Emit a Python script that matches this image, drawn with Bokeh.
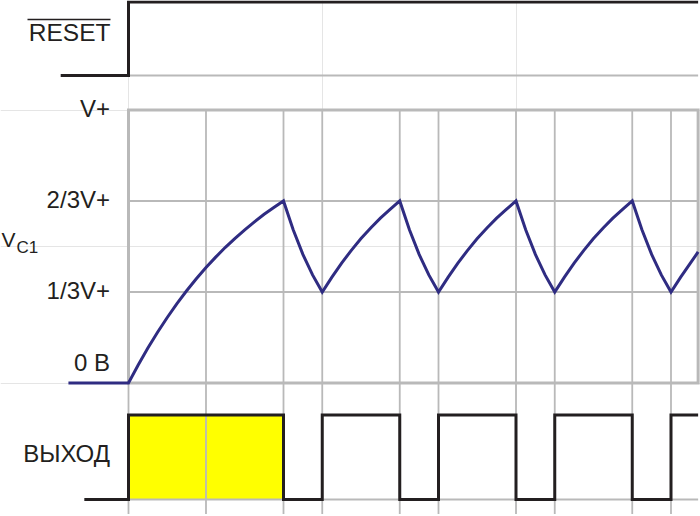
from bokeh.plotting import figure
from bokeh.models import Range1d, ColumnDataSource
from bokeh.core.properties import value
from bokeh.embed import file_html
from bokeh.resources import INLINE

# ---------------- data ----------------
# RESET input: low, then high from t = 0
reset_t = [-1.75, 0.0, 0.0, 14.7]
reset_level = [0, 0, 1, 1]

# output (ВЫХОД) transitions, step "after"
out_t = [-1.14, 0, 4, 5, 7, 8, 10, 11, 13, 14, 14.7]
out_level = [0, 1, 0, 1, 0, 1, 0, 1, 0, 1, 1]

# capacitor voltage V_C1 (fraction of V+)
vc_t = [-1.55, 0, 0.25, 0.5, 0.75, 1, 1.25, 1.5, 1.75, 2, 2.25, 2.5, 2.75, 3, 3.25, 3.5, 3.75, 4,
        4.25, 4.5, 4.75, 5, 5.25, 5.5, 5.75, 6, 6.25, 6.5, 6.75, 7,
        7.25, 7.5, 7.75, 8, 8.25, 8.5, 8.75, 9, 9.25, 9.5, 9.75, 10,
        10.25, 10.5, 10.75, 11, 11.25, 11.5, 11.75, 12, 12.25, 12.5, 12.75, 13,
        13.25, 13.5, 13.75, 14, 14.25, 14.5, 14.7]
vc_v = [0, 0, 0.066, 0.128, 0.186, 0.240, 0.291, 0.338, 0.382, 0.423, 0.461, 0.497, 0.530,
        0.561, 0.590, 0.618, 0.643, 0.667,
        0.561, 0.471, 0.396, 0.333, 0.388, 0.439, 0.486, 0.529, 0.568, 0.604, 0.636, 0.667,
        0.561, 0.471, 0.396, 0.333, 0.388, 0.439, 0.486, 0.529, 0.568, 0.604, 0.636, 0.667,
        0.561, 0.471, 0.396, 0.333, 0.388, 0.439, 0.486, 0.529, 0.568, 0.604, 0.636, 0.667,
        0.561, 0.471, 0.396, 0.333, 0.388, 0.439, 0.48]

grid_t = [0, 2, 4, 5, 7, 8, 10, 11, 13, 14]
v_levels = [0, 1 / 3, 2 / 3, 1]
v_labels = ["0 В", "1/3V+", "2/3V+", "V+"]
t_end = 14.7
fill_t = [0, 4]

# ---------------- layout (pixels) ----------------
W, H = 700, 514
WIN_L, WIN_R, WIN_T, WIN_B = 0, W, 0, H
T0_PX = 128.0      # x pixel of t = 0
U = 38.75          # px per time unit
TY = -10.0         # text vertical correction


def yrange(px0, px1):
    s = px0 - px1
    return Range1d((px0 - WIN_B) / s, (px0 - WIN_T) / s)


DARK = "#231f20"
GRAY = "#b9b9b9"
BLUE = "#2f2c82"
FONT = value("Liberation Sans")

p = figure(width=W, height=H,
           x_range=Range1d((WIN_L - T0_PX) / U, (WIN_R - T0_PX) / U),
           y_range=yrange(382.5, 109.5),
           x_axis_location=None, y_axis_location=None,
           toolbar_location=None, output_backend="svg", min_border=0)
p.outline_line_color = None
p.background_fill_color = "white"
p.border_fill_color = "white"
p.extra_y_ranges = {"reset": yrange(75.0, 1.5),
                    "out": yrange(499.0, 414.5),
                    "px": Range1d(WIN_B, WIN_T)}
p.extra_x_ranges = {"px": Range1d(WIN_L, WIN_R)}

# yellow first output pulse
p.quad(left=[fill_t[0]], right=[fill_t[1]], bottom=[0], top=[1], y_range_name="out",
       fill_color="#ffff00", line_color=None)

# vertical grid lines (from top of V_C1 panel down to the bottom)
n = len(grid_t)
p.segment(x0=grid_t, x1=grid_t, y0=[109.5] * n, y1=[WIN_B] * n, y_range_name="px",
          line_color=GRAY, line_width=1.8)
# horizontal grid lines
p.segment(x0=[0, 0], x1=[t_end, t_end], y0=v_levels[1:3], y1=v_levels[1:3],
          line_color=GRAY, line_width=1.8)
# panel border
p.quad(left=[0], right=[t_end], bottom=[0], top=[1], fill_color=None,
       line_color=GRAY, line_width=3, line_join="miter")
# baselines
p.line([0, t_end], [0, 0], y_range_name="reset", line_color=GRAY, line_width=2.2)
p.line([0, t_end], [0, 0], y_range_name="out", line_color=GRAY, line_width=2)

# signals
p.line(reset_t, reset_level, y_range_name="reset", line_color=DARK, line_width=3,
       line_join="miter")
p.step(out_t, out_level, mode="after", y_range_name="out", line_color=DARK,
       line_width=3, line_join="miter")
p.line(vc_t, vc_v, line_color=BLUE, line_width=3, line_join="miter")

# voltage labels
lab = ColumnDataSource(dict(x=[0] * 4, y=v_levels, text=v_labels,
                            yo=[-10.8 + TY, 8.6 + TY, 8.6 + TY, 8.6 + TY]))
p.text(x="x", y="y", text="text", source=lab, x_offset=-18.5, y_offset="yo",
       text_align="right", text_baseline="alphabetic", text_font=FONT,
       text_font_size="24px", text_color=DARK)

# RESET label with overline
p.text(x=[0], y=[0], text=["RESET"], y_range_name="reset", x_offset=-18,
       y_offset=-32.7 + TY,
       text_align="right", text_baseline="alphabetic", text_font=FONT,
       text_font_size="24.5px", text_color=DARK)
p.segment(x0=[27], x1=[110], y0=[19], y1=[19], x_range_name="px", y_range_name="px",
          line_color=DARK, line_width=1.5)

# ВЫХОД label
p.text(x=[0], y=[0.5], text=["ВЫХОД"], y_range_name="out", x_offset=-18.5,
       y_offset=6.3 + TY,
       text_align="right", text_baseline="alphabetic", text_font=FONT,
       text_font_size="24px", text_color=DARK)

# V_C1 label
p.text(x=[0], y=[0.5], text=["V"], x_offset=1 - T0_PX, y_offset=3 + TY,
       text_align="left", text_baseline="alphabetic", text_font=FONT,
       text_font_size="21px", text_color=DARK)
p.text(x=[0], y=[0.5], text=["C1"], x_offset=16 - T0_PX, y_offset=10.7 + TY,
       text_align="left", text_baseline="alphabetic", text_font=FONT,
       text_font_size="17px", text_color=DARK)

open("out.html", "w").write(file_html(p, INLINE))
